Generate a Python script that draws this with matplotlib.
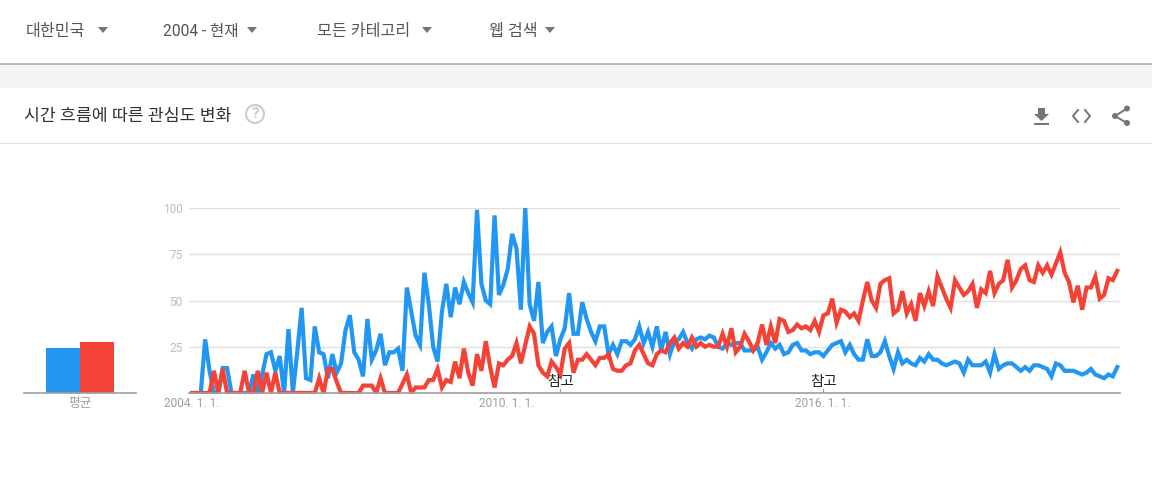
import matplotlib
matplotlib.use("Agg")
import matplotlib.pyplot as plt
import numpy as np
from matplotlib.patches import Circle, Polygon, Rectangle

plt.rcParams['font.family'] = ['Roboto', 'Noto Sans CJK KR', 'DejaVu Sans']

# monthly values, 2004-01 onwards
blue = [0, 0, 0, 29, 12, 0, 0, 13.5, 13.5, 0, 0, 0, 0, 0, 10, 0, 10, 21, 22, 12,
        20, 0, 34.5, 0, 22, 46, 8, 7, 36, 22, 21, 8, 21, 11, 16, 34, 42, 22, 18, 9,
        40, 18, 23, 32, 15, 22, 22, 24, 12, 57, 44, 31, 26, 65, 48, 25, 17, 44, 59, 41,
        57, 48, 60, 54, 49, 99, 59, 50, 48, 96, 53, 58.5, 67, 86, 78, 45, 100, 48, 39, 60,
        27, 33, 36, 20, 29, 35, 54, 32, 32, 49, 40, 33, 28, 36, 36, 21, 26, 21, 28, 28,
        26, 29, 36, 27, 33, 25, 36, 23, 33, 21, 28, 29, 33, 27, 24, 29, 30, 29, 31, 30,
        25, 24, 27, 26, 27, 27, 23, 23, 23, 25, 18, 22, 27, 24, 26, 21, 22, 26, 27,
        23, 23, 21, 22, 22, 20, 23, 26, 27, 28, 22, 26, 21, 18, 18, 29, 20, 20, 22, 28, 20,
        13, 22, 16, 18, 16, 15, 19, 17, 21, 18, 18, 16, 15, 16, 17, 16, 11, 18, 15, 15,
        15, 17, 11, 21, 13, 15, 16, 16, 14, 12, 14, 12, 15, 15, 14, 13, 9, 16, 15, 12,
        12, 12, 11, 10, 11, 13, 10, 9, 8, 10, 9, 14]
red = [0, 0, 0, 0, 0, 12, 0, 13, 0, 0, 0, 0, 12, 0, 0, 12, 0, 11, 0, 11,
       0, 0, 0, 0, 0, 0, 0, 0, 0, 8, 0, 13, 13, 6, 0, 0, 0, 0, 0, 4,
       4, 4, 0, 8, 0, 0, 0, 0, 5, 10, 0, 3, 3, 3, 7, 7, 13, 3, 7, 6,
       17, 8, 24, 11, 4, 21, 12, 28, 14, 3, 16, 15, 18, 20, 27, 16, 26, 36, 32, 15,
       11, 9, 17, 14, 10, 24, 27, 11, 18, 18, 21, 18, 15, 19, 19, 21, 13, 12, 12, 15,
       16, 23, 26, 21, 16, 15, 21, 23, 22, 27, 30, 24, 27, 25, 30, 25, 27, 25, 26, 25,
       25, 32, 25, 35, 22, 25, 32, 28, 23, 27, 37, 26, 36, 27, 40, 39, 33, 34, 37,
       35, 36, 34, 39, 33, 42, 43, 51, 38, 45, 44, 41, 43, 39, 50, 60, 50, 46, 59, 61, 62,
       43, 45, 55, 43, 48, 39, 54, 47, 55, 47, 63, 57, 51, 46, 61, 57, 53, 55, 59, 46,
       56, 54, 66, 54, 59, 61, 72, 57, 61, 67, 69, 61, 60, 69, 65, 69, 64, 70, 76, 65,
       60, 49, 58, 45, 57, 57, 63, 51, 53, 62, 61, 66]
months = np.arange(len(blue))

avg_labels = ['평균']
avg_values = [24.3, 27.6]
y_ticks = [25, 50, 75, 100]
y_labels = ['25', '50', '75', '100']
x_ticks = [0, 72, 144]
x_labels = ['2004. 1. 1.', '2010. 1. 1.', '2016. 1. 1.']
note_months = [84, 144]
note_text = '참고'
menus = ['대한민국', '2004 - 현재', '모든 카테고리', '웹 검색']
menu_x = [26, 163, 317, 489]
menu_size = [11.6, 11.2, 11.6, 11.6]
arrow_x = [103, 252, 427, 550]
title = '시간 흐름에 따른 관심도 변화'

BLUE = '#2196f3'
RED = '#f44336'
W, H = 1152, 478

fig = plt.figure(figsize=(W / 100, H / 100), dpi=100, facecolor='white')

# page furniture, in pixel coordinates
bg = fig.add_axes([0, 0, 1, 1])
bg.set_xlim(0, W)
bg.set_ylim(H, 0)
bg.axis('off')
bg.add_patch(Rectangle((0, 64), W, 24, color='#f5f5f5', lw=0))
bg.add_patch(Rectangle((0, 63), W, 2, color='#bdbdbd', lw=0))
bg.add_patch(Rectangle((0, 143), W, 1, color='#e0e0e0', lw=0))
for label, x, size, ax_x in zip(menus, menu_x, menu_size, arrow_x):
    bg.text(x, 31, label, fontsize=size, color='#555555', va='center', ha='left')
    bg.add_patch(Polygon([(ax_x - 5, 27), (ax_x + 5, 27), (ax_x, 33)], color='#757575', lw=0))
bg.text(24, 116, title, fontsize=12.4, color='#333333', va='center', ha='left')
bg.add_patch(Circle((255, 114), 9, fc='white', ec='#cccccc', lw=1.5))
bg.text(255, 114, '?', fontsize=11, color='#cccccc', va='center', ha='center', fontweight='bold')

# download icon
bg.add_patch(Polygon([(1038, 108), (1045, 108), (1045, 114), (1049, 114), (1041.5, 121),
                      (1034, 114), (1038, 114)], color='#757575', lw=0))
bg.add_patch(Rectangle((1034, 123), 15, 2, color='#757575', lw=0))
# embed icon
bg.plot([1078, 1073, 1078], [110, 116, 122], color='#757575', lw=1.4)
bg.plot([1085, 1090, 1085], [110, 116, 122], color='#757575', lw=1.4)
# share icon
bg.plot([1127, 1115, 1127], [108.5, 116, 123], color='#757575', lw=1.4)
for cx, cy in [(1127, 108.5), (1115, 116), (1127, 123)]:
    bg.add_patch(Circle((cx, cy), 3, color='#757575', lw=0))

# main line chart
px_month = 4.385
x0 = 192
left, right, top, bottom = 189, 1120, 208, 393
ax = fig.add_axes([left / W, 1 - bottom / H, (right - left) / W, (bottom - top) / H])
ax.patch.set_alpha(0)
ax.set_xlim((left - x0) / px_month, (right - x0) / px_month)
ax.set_ylim(0, 100)
for s in ['top', 'left', 'right']:
    ax.spines[s].set_visible(False)
ax.spines['bottom'].set_color('#9e9e9e')
ax.spines['bottom'].set_linewidth(1.2)
ax.spines['bottom'].set_zorder(6)
for v in y_ticks:
    ax.axhline(v, color='#e0e0e0', lw=1, zorder=1)
# lines are cut just under the baseline, so the zero runs keep most of their width
clip = Rectangle((left, 190), right - left, bottom + 1 - 190, transform=bg.transData)
for series, colour, z in [(blue, BLUE, 3), (red, RED, 4)]:
    line, = ax.plot(months, series, color=colour, lw=3, solid_joinstyle='miter', zorder=z)
    line.set_clip_path(clip)
ax.set_yticks(y_ticks)
ax.set_yticklabels(y_labels, fontsize=8.6, color='#bdbdbd')
ax.tick_params(axis='y', length=0, pad=4.5)
ax.set_xticks(x_ticks)
ax.set_xticklabels(x_labels, fontsize=8.6, color='#9e9e9e', ha='left')
ax.tick_params(axis='x', length=0, pad=3)
offset = matplotlib.transforms.ScaledTranslation(-28.5 / 100, 0, fig.dpi_scale_trans)
for t in ax.get_xticklabels():
    t.set_transform(t.get_transform() + offset)
for m in note_months:
    ax.plot([m, m], [0, 2], color='#9e9e9e', lw=0.8, zorder=5)
    ax.annotate(note_text, (m, 0), xytext=(0, 8), textcoords='offset points',
                ha='center', va='center', fontsize=10.5, color='#222222', zorder=6)

# average bars
av = fig.add_axes([24 / W, 1 - bottom / H, 112 / W, (bottom - top) / H])
av.patch.set_alpha(0)
av.set_xlim(24, 136)
av.set_ylim(0, 100)
for s in ['top', 'left', 'right']:
    av.spines[s].set_visible(False)
av.spines['bottom'].set_color('#9e9e9e')
av.spines['bottom'].set_linewidth(1.2)
av.bar([63, 97], avg_values, width=34, color=[BLUE, RED])
av.set_yticks([])
av.set_xticks([80])
av.set_xticklabels(avg_labels, fontsize=9.2, color='#9e9e9e')
av.tick_params(axis='x', length=0, pad=3)

fig.savefig('out.png', dpi=100)
